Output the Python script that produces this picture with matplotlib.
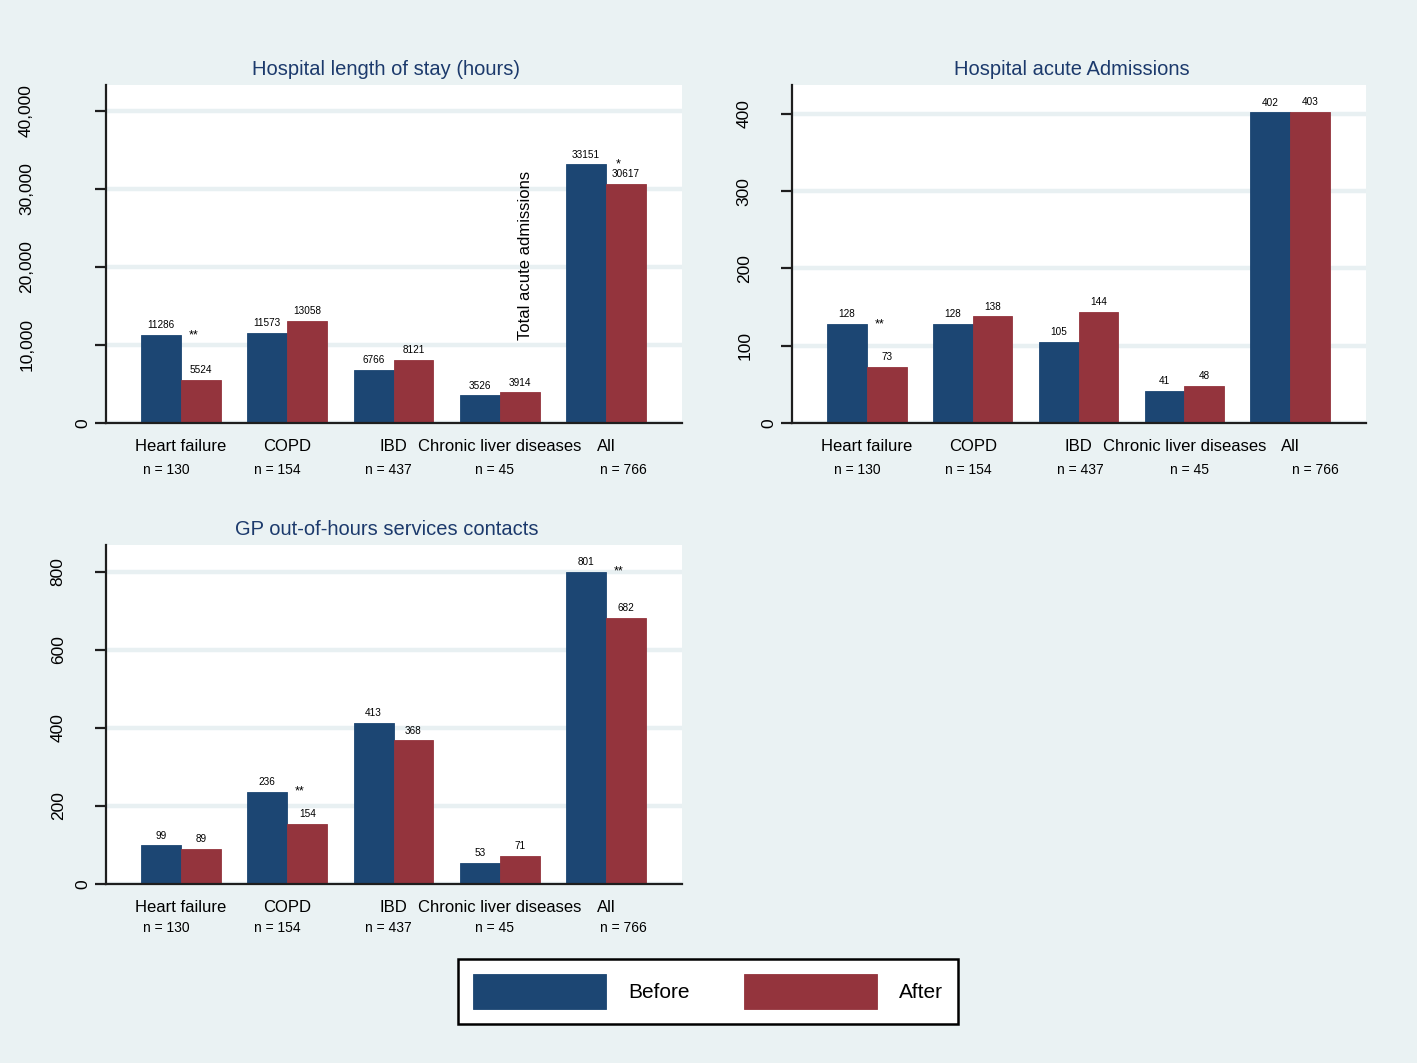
import matplotlib
matplotlib.use('Agg')
import matplotlib.pyplot as plt
import numpy as np
from matplotlib import font_manager
from matplotlib.textpath import TextPath
from matplotlib.font_manager import FontProperties

# ---------------- data ----------------
categories = ['Heart failure', 'COPD', 'IBD', 'Chronic liver diseases', 'All']
n_labels = ['n = 130', 'n = 154', 'n = 437', 'n = 45', 'n = 766']
series_names = ['Before', 'After']

los_before = [11286, 11573, 6766, 3526, 33151]
los_after = [5524, 13058, 8121, 3914, 30617]
los_stars = ['**', '', '', '', '*']
los_ticks = [0, 10000, 20000, 30000, 40000]
los_ticklabels = ['0', '10,000', '20,000', '30,000', '40,000']

adm_before = [128, 128, 105, 41, 402]
adm_after = [73, 138, 144, 48, 403]
adm_stars = ['**', '', '', '', '']
adm_ticks = [0, 100, 200, 300, 400]
adm_ticklabels = ['0', '100', '200', '300', '400']

gp_before = [99, 236, 413, 53, 801]
gp_after = [89, 154, 368, 71, 682]
gp_stars = ['', '**', '', '', '**']
gp_ticks = [0, 200, 400, 600, 800]
gp_ticklabels = ['0', '200', '400', '600', '800']

titles = ['Hospital length of stay (hours)', 'Hospital acute Admissions',
          'GP out-of-hours services contacts']
stray_label = 'Total acute admissions'

# ---------------- style ----------------
BG = '#EAF2F3'
GRID = '#E8F0F2'
NAVY = '#1c4673'
MAROON = '#94343d'
TITLE_C = '#1c3a6c'
AX_C = '#1e1e1e'

names = {f.name for f in font_manager.fontManager.ttflist}
BASE = 'Liberation Sans' if 'Liberation Sans' in names else 'DejaVu Sans'
NARROW = 'Liberation Sans Narrow' if 'Liberation Sans Narrow' in names else BASE
plt.rcParams['font.family'] = [BASE, 'DejaVu Sans']

fig = plt.figure(figsize=(14.17, 10.63), dpi=100, facecolor=BG)

W, H = 1417.0, 1063.0


def add_axes_px(left, top, right, bottom):
    return fig.add_axes([left / W, 1 - bottom / H, (right - left) / W, (bottom - top) / H])


def panel(ax, before, after, stars, ticks, ticklabels, ymax, title, n_pos, n_dy,
          title_x):
    ax.set_facecolor('white')
    x = np.arange(len(categories))
    w = 0.376
    ax.set_axisbelow(True)
    ax.yaxis.grid(True, color=GRID, lw=3.2)
    b1 = ax.bar(x - w / 2, before, w, color=NAVY, edgecolor=NAVY, lw=0.6,
                label=series_names[0])
    b2 = ax.bar(x + w / 2, after, w, color=MAROON, edgecolor=MAROON, lw=0.6,
                label=series_names[1])
    vfs = 8 if NARROW != BASE else 7.2
    ax.bar_label(b1, labels=[str(v) for v in before], padding=3.5, fontsize=vfs,
                 family=NARROW)
    ax.bar_label(b2, labels=[str(v) for v in after], padding=3.5, fontsize=vfs,
                 family=NARROW)
    for i, s in enumerate(stars):
        if s:
            ax.text(x[i] + w / 2 - 0.07, before[i], s, ha='center', va='center',
                    fontsize=9)
    ax.set_xlim(-0.706, 4.715)
    ax.set_ylim(0, ymax)
    for sp in ['top', 'right']:
        ax.spines[sp].set_visible(False)
    for sp in ['left', 'bottom']:
        ax.spines[sp].set_color(AX_C)
        ax.spines[sp].set_linewidth(1.6)
    ax.set_xticks(x)
    ax.set_xticklabels(categories, fontsize=12)
    ax.tick_params(axis='x', length=0, pad=11.5)
    ax.set_yticks(ticks)
    ax.tick_params(axis='y', length=8, width=1.6, color=AX_C, labelleft=False)
    fp = FontProperties(family=BASE, size=12.5)
    for t, lab in zip(ticks, ticklabels):
        L = TextPath((0, 0), lab, prop=fp).get_extents().width
        d = 8 + 1.3 * L + 0.7
        ax.annotate(lab, xy=(0, t), xycoords=('axes fraction', 'data'),
                    xytext=(-d, 0), textcoords='offset points', rotation=90,
                    ha='center', va='center', fontsize=12.5, annotation_clip=False)
    for fx, lab in zip(n_pos, n_labels):
        ax.annotate(lab, xy=(fx, 0), xycoords='axes fraction',
                    xytext=(0, -n_dy * 0.72), textcoords='offset points',
                    ha='center', va='center', fontsize=10, annotation_clip=False)
    ax.set_title(title, fontsize=14.5, color=TITLE_C, pad=7.5, x=title_x)
    return b1, b2


ax1 = add_axes_px(106, 85, 682, 423)
ax2 = add_axes_px(792, 85, 1366, 423)
ax3 = add_axes_px(106, 545, 682, 884)

b1, b2 = panel(ax1, los_before, los_after, los_stars, los_ticks, los_ticklabels,
               43333, titles[0], [0.104, 0.297, 0.491, 0.675, 0.898], 47.5, 0.486)
panel(ax2, adm_before, adm_after, adm_stars, adm_ticks, adm_ticklabels,
      437.5, titles[1], [0.113, 0.308, 0.503, 0.693, 0.911], 47.5, 0.488)
panel(ax3, gp_before, gp_after, gp_stars, gp_ticks, gp_ticklabels,
      869, titles[2], [0.104, 0.297, 0.491, 0.675, 0.898], 44.5, 0.488)

ax1.text(0.729, 0.497, stray_label, transform=ax1.transAxes, rotation=90,
         ha='center', va='center', fontsize=12)

leg = fig.legend(handles=[b1, b2], labels=series_names, loc='center',
                 bbox_to_anchor=(0.4997, 0.0673), ncol=2, fontsize=15,
                 handlelength=6.4, handleheight=2.27, handletextpad=1.05,
                 columnspacing=2.6, borderpad=0.72, frameon=True, fancybox=False,
                 edgecolor='black', framealpha=1, facecolor='white')
leg.get_frame().set_linewidth(1.8)

fig.savefig('out.png', dpi=100, facecolor=BG)
